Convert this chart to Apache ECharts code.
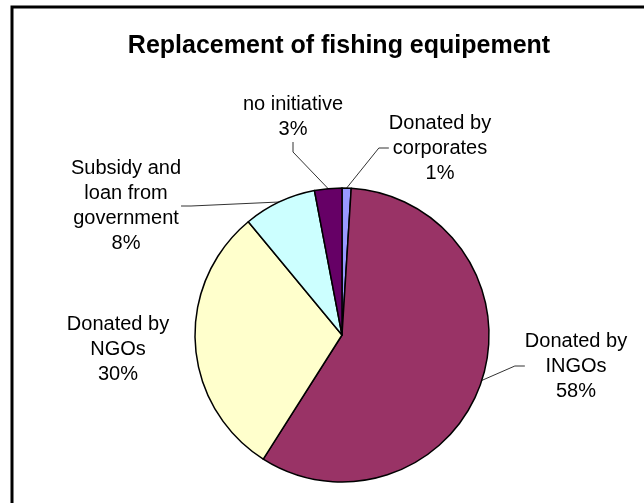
<!DOCTYPE html>
<html>
<head>
<meta charset="utf-8">
<script src="https://cdn.jsdelivr.net/npm/echarts@6/dist/echarts.min.js"></script>
<style>
  html, body { margin: 0; padding: 0; background: #ffffff; }
  #chart { width: 644px; height: 503px; }
</style>
</head>
<body>
<div id="chart"></div>
<script>
// Sources of replacement fishing equipment, share of respondents (%)
const categories = [
  'Donated by\ncorporates',
  'Donated by\nINGOs',
  'Donated by\nNGOs',
  'Subsidy and\nloan from\ngovernment',
  'no initiative'
];
const shares = [1, 58, 30, 8, 3];
const sliceColors = ['#9999FF', '#993366', '#FFFFCC', '#CCFFFF', '#660066'];

// Where each slice's label block sits (centre of the text block)
const labelSpots = [
  [440, 148],
  [576, 366],
  [118, 349],
  [126, 206],
  [293, 117]
];

const FONT = '"Liberation Sans", Arial, sans-serif';

const chart = echarts.init(document.getElementById('chart'), null, { renderer: 'canvas' });

chart.setOption({
  backgroundColor: '#ffffff',
  animation: false,
  title: {
    text: 'Replacement of fishing equipement',
    left: 334,
    top: 29,
    textAlign: 'center',
    textStyle: { fontFamily: FONT, fontWeight: 'bold', fontSize: 25, color: '#000000' }
  },
  graphic: [{
    type: 'rect',
    shape: { x: 12, y: 7, width: 700, height: 600 },
    style: { fill: 'none', stroke: '#000000', lineWidth: 3 },
    silent: true,
    z: 100
  }],
  series: [{
    type: 'pie',
    center: [342, 335],
    radius: 147,
    startAngle: 90,
    clockwise: true,
    percentPrecision: 0,
    itemStyle: { borderColor: '#000000', borderWidth: 1.5 },
    label: {
      show: true,
      position: 'outside',
      formatter: '{b}\n{d}%',
      fontFamily: FONT,
      fontSize: 20,
      lineHeight: 25,
      color: '#000000',
      align: 'center'
    },
    labelLine: {
      show: true,
      length: 10,
      length2: 10,
      lineStyle: { color: '#333333', width: 1 }
    },
    labelLayout: function (params) {
      const spot = labelSpots[params.dataIndex];
      return {
        x: spot[0],
        y: spot[1],
        align: 'center',
        verticalAlign: 'middle'
      };
    },
    emphasis: { disabled: true },
    data: categories.map(function (name, i) {
      const item = { name: name, value: shares[i], itemStyle: { color: sliceColors[i] } };
      if (i === 2) item.labelLine = { show: false };
      return item;
    })
  }]
});
</script>
</body>
</html>
